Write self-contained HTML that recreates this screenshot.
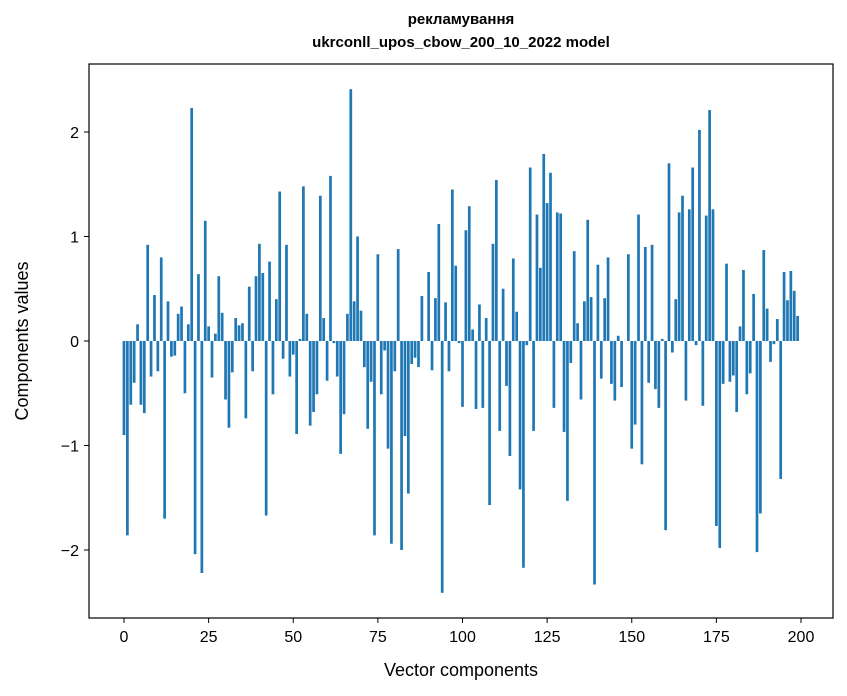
<!DOCTYPE html>
<html><head><meta charset="utf-8"><style>
body{margin:0;background:#fff;}
svg{display:block;font-family:"Liberation Sans","DejaVu Sans",sans-serif;}
</style></head><body>
<svg id="chart" width="847" height="696" xmlns="http://www.w3.org/2000/svg">
<text x="461" y="24" text-anchor="middle" font-size="15" font-weight="bold">рекламування</text>
<text x="461" y="47" text-anchor="middle" font-size="15" font-weight="bold">ukrconll_upos_cbow_200_10_2022 model</text>
<g id="bars"></g>
<g id="xticks"></g>
<g id="yticks"></g>
<rect x="89" y="64" width="744" height="554" fill="none" stroke="#000" stroke-width="1.2"/>
<text x="461" y="676" text-anchor="middle" font-size="18">Vector components</text>
<text transform="translate(28,341) rotate(-90)" text-anchor="middle" font-size="18">Components values</text>
</svg>
<script>
const values = [-0.90,-1.86,-0.61,-0.40,0.16,-0.61,-0.69,0.92,-0.34,0.44,
-0.29,0.80,-1.70,0.38,-0.15,-0.14,0.26,0.33,-0.50,0.16,
2.23,-2.04,0.64,-2.22,1.15,0.14,-0.35,0.07,0.62,0.27,
-0.56,-0.83,-0.30,0.22,0.15,0.17,-0.74,0.52,-0.29,0.62,
0.93,0.65,-1.67,0.76,-0.51,0.40,1.43,-0.17,0.92,-0.34,
-0.13,-0.89,0.02,1.48,0.26,-0.81,-0.68,-0.51,1.39,0.22,
-0.38,1.58,-0.02,-0.34,-1.08,-0.70,0.26,2.41,0.38,1.00,
0.29,-0.25,-0.84,-0.39,-1.86,0.83,-0.51,-0.09,-1.03,-1.94,
-0.29,0.88,-2.00,-0.91,-1.46,-0.22,-0.16,-0.25,0.43,0.0,
0.66,-0.28,0.41,1.12,-2.41,0.37,-0.29,1.45,0.72,-0.02,
-0.63,1.06,1.29,0.11,-0.65,0.35,-0.64,0.22,-1.57,0.93,
1.54,-0.86,0.50,-0.43,-1.10,0.79,0.28,-1.42,-2.17,-0.04,
1.66,-0.86,1.21,0.70,1.79,1.32,1.61,-0.64,1.23,1.22,
-0.87,-1.53,-0.21,0.86,0.17,-0.56,0.38,1.16,0.42,-2.33,
0.73,-0.36,0.41,0.80,-0.41,-0.57,0.05,-0.44,0.0,0.83,
-1.03,-0.80,1.21,-1.18,0.90,-0.40,0.92,-0.46,-0.64,0.02,
-1.81,1.70,-0.11,0.40,1.23,1.39,-0.57,1.26,1.66,-0.04,
2.02,-0.62,1.20,2.21,1.26,-1.77,-1.98,-0.41,0.74,-0.39,
-0.33,-0.68,0.14,0.68,-0.51,-0.31,0.45,-2.02,-1.65,0.87,
0.31,-0.20,-0.03,0.21,-1.32,0.66,0.39,0.67,0.48,0.24];
const xTickValues = [0,25,50,75,100,125,150,175,200];
const yTickValues = [-2,-1,0,1,2];
const yTickLabels = ["\u22122","\u22121","0","1","2"];

const NS="http://www.w3.org/2000/svg";
function sx(v){return 124+(801-124)*v/200;}
function sy(v){return 341-104.5*v;}
const gb=document.getElementById('bars');
values.forEach((v,i)=>{
  const r=document.createElementNS(NS,'rect');
  
  
  const x0=sx(i-0.4), x1=sx(i+0.4);
  const y0=Math.min(sy(v),sy(0)), y1=Math.max(sy(v),sy(0));
  r.setAttribute('x',x0);r.setAttribute('width',x1-x0);
  r.setAttribute('y',y0);r.setAttribute('height',Math.max(y1-y0,0.01));
  r.setAttribute('fill','#1f77b4');
  gb.appendChild(r);
});
const gx=document.getElementById('xticks');
xTickValues.forEach(t=>{
  const l=document.createElementNS(NS,'line');
  
  
  l.setAttribute('x1',sx(t));l.setAttribute('x2',sx(t));l.setAttribute('y1',618);l.setAttribute('y2',623);
  l.setAttribute('stroke','#000');gx.appendChild(l);
  const tx=document.createElementNS(NS,'text');
  
  
  tx.setAttribute('x',sx(t));tx.setAttribute('y',642);tx.setAttribute('text-anchor','middle');tx.setAttribute('font-size','16');
  tx.textContent=String(t);gx.appendChild(tx);
});
const gy=document.getElementById('yticks');
yTickValues.forEach((t,k)=>{
  const l=document.createElementNS(NS,'line');
  
  
  l.setAttribute('x1',84);l.setAttribute('x2',89);l.setAttribute('y1',sy(t));l.setAttribute('y2',sy(t));
  l.setAttribute('stroke','#000');gy.appendChild(l);
  const tx=document.createElementNS(NS,'text');
  
  
  tx.setAttribute('x',79);tx.setAttribute('y',sy(t)+6);tx.setAttribute('text-anchor','end');tx.setAttribute('font-size','16');
  tx.textContent=yTickLabels[k];gy.appendChild(tx);
});
</script>
</body></html>
